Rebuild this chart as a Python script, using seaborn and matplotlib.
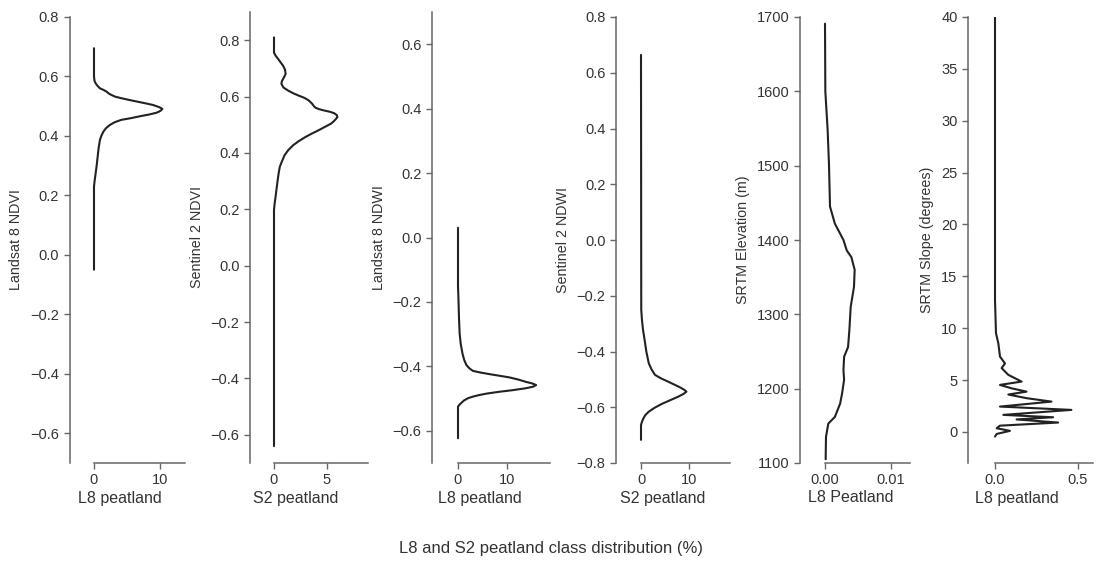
import numpy as np
import pandas as pd
import matplotlib
matplotlib.use("Agg")
import matplotlib.pyplot as plt
import seaborn as sns
from matplotlib.ticker import FuncFormatter

# Curves (value on y, class distribution % on x)
l8_ndvi_val = [0.695, 0.60, 0.585, 0.577, 0.568, 0.560, 0.555, 0.549, 0.543, 0.538, 0.532,
               0.527, 0.521, 0.515, 0.509, 0.504, 0.497, 0.491, 0.486, 0.482, 0.478, 0.472,
               0.467, 0.460, 0.454, 0.446, 0.437, 0.426, 0.414, 0.400, 0.387, 0.36, 0.330,
               0.30, 0.275, 0.25, 0.23, -0.05]
l8_ndvi_pct = [0, 0, 0.08, 0.25, 0.55, 0.9, 1.4, 1.9, 2.2, 2.6, 3.2,
               4.1, 5.3, 6.6, 7.9, 8.9, 9.8, 10.3, 10.1, 9.8, 9.4, 8.3,
               7.1, 5.6, 4.1, 3.1, 2.4, 1.8, 1.4, 1.1, 0.9, 0.7, 0.55,
               0.4, 0.25, 0.1, 0, 0]

s2_ndvi_val = [0.81, 0.756, 0.745, 0.733, 0.72, 0.709, 0.695, 0.68, 0.665, 0.655, 0.645,
               0.632, 0.621, 0.612, 0.604, 0.595, 0.586, 0.575, 0.565, 0.560, 0.555, 0.551,
               0.546, 0.541, 0.534, 0.527, 0.52, 0.512, 0.504, 0.492, 0.480, 0.468, 0.456,
               0.442, 0.427, 0.41, 0.392, 0.37, 0.351, 0.33, 0.304, 0.275, 0.245, 0.22,
               0.198, -0.64]
s2_ndvi_pct = [0, 0, 0.15, 0.4, 0.65, 0.87, 1.05, 1.1, 0.9, 0.75, 0.7,
               0.9, 1.35, 1.8, 2.3, 2.9, 3.3, 3.6, 3.8, 3.95, 4.3, 4.7,
               5.3, 5.7, 5.95, 6.0, 5.85, 5.65, 5.4, 4.8, 4.2, 3.55, 2.95,
               2.35, 1.8, 1.35, 1.0, 0.75, 0.55, 0.45, 0.35, 0.25, 0.15, 0.06,
               0, 0]

l8_ndwi_val = [0.03, -0.15, -0.194, -0.25, -0.298, -0.33, -0.36, -0.38, -0.396, -0.406,
               -0.414, -0.419, -0.424, -0.429, -0.434, -0.441, -0.448, -0.453, -0.458,
               -0.463, -0.468, -0.474, -0.479, -0.484, -0.489, -0.494, -0.499, -0.506,
               -0.513, -0.519, -0.525, -0.623]
l8_ndwi_pct = [0, 0, 0.1, 0.2, 0.33, 0.55, 0.9, 1.25, 1.7, 2.3,
               3.0, 4.5, 6.3, 8.3, 10.3, 12.2, 13.7, 15.0, 15.8,
               15.2, 13.7, 11.0, 8.3, 6.0, 4.3, 3.0, 2.0, 1.2,
               0.7, 0.3, 0, 0]

s2_ndwi_val = [0.664, -0.25, -0.287, -0.32, -0.359, -0.40, -0.442, -0.465, -0.484, -0.497,
               -0.508, -0.518, -0.528, -0.537, -0.544, -0.552, -0.562, -0.575, -0.588,
               -0.602, -0.616, -0.628, -0.640, -0.652, -0.664, -0.717]
s2_ndwi_pct = [0, 0.05, 0.2, 0.4, 0.75, 1.1, 1.6, 2.2, 2.9, 4.2,
               5.6, 6.8, 8.0, 8.9, 9.4, 8.8, 7.7, 6.0, 4.3,
               2.8, 1.6, 0.9, 0.5, 0.2, 0, 0]

elev_val = [1691, 1600, 1548, 1503, 1445, 1422, 1400, 1386, 1377, 1360, 1337, 1310,
            1279, 1256, 1243, 1225, 1212, 1194, 1180, 1162, 1153, 1135, 1105]
elev_pct = [0, 0.00005, 0.0004, 0.0006, 0.00076, 0.0015, 0.0028, 0.0033, 0.0040, 0.0045, 0.0044, 0.0039,
            0.0037, 0.0035, 0.0029, 0.0028, 0.0029, 0.0026, 0.0023, 0.0015, 0.0005, 0.00015, 0.0001]

slope_val = [40, 12.7, 9.5, 8.55, 7.26, 6.6, 6.15, 5.5, 4.85, 4.53, 4.2, 3.88, 3.6,
             3.25, 2.92, 2.44, 2.12, 1.64, 1.41, 1.2, 0.9, 0.6, 0.35, 0.1, -0.2, -0.45]
slope_pct = [0, 0, 0.006, 0.02, 0.03, 0.06, 0.04, 0.08, 0.16, 0.03, 0.10, 0.19, 0.08,
             0.19, 0.34, 0.03, 0.46, 0.05, 0.35, 0.13, 0.38, 0.03, 0.01, 0.09, 0.01, 0]

y_labels = ["Landsat 8 NDVI", "Sentinel 2 NDVI", "Landsat 8 NDWI",
            "Sentinel 2 NDWI", "SRTM Elevation (m)", "SRTM Slope (degrees)"]
x_labels = ["L8 peatland", "S2 peatland", "L8 peatland",
            "S2 peatland", "L8 Peatland", "L8 peatland"]
x_ticks = [[0, 10], [0, 5], [0, 10], [0, 10], [0, 0.01], [0, 0.5]]
y_ticks = [[-0.6, -0.4, -0.2, 0.0, 0.2, 0.4, 0.6, 0.8],
           [-0.6, -0.4, -0.2, 0.0, 0.2, 0.4, 0.6, 0.8],
           [-0.6, -0.4, -0.2, 0.0, 0.2, 0.4, 0.6],
           [-0.8, -0.6, -0.4, -0.2, 0.0, 0.2, 0.4, 0.6, 0.8],
           [1100, 1200, 1300, 1400, 1500, 1600, 1700],
           [0, 5, 10, 15, 20, 25, 30, 35, 40]]
x_fmt = ["{:.0f}", "{:.0f}", "{:.0f}", "{:.0f}", "{:.2f}", "{:.1f}"]
y_fmt = ["{:.1f}", "{:.1f}", "{:.1f}", "{:.1f}", "{:.0f}", "{:.0f}"]
x_max = [13.7, 8.9, 18.6, 18.4, 0.0129, 0.59]
ylims = [(-0.7, 0.8), (-0.7, 0.9), (-0.7, 0.7), (-0.8, 0.8), (1100, 1700), (-3, 40)]

curves = [(l8_ndvi_val, l8_ndvi_pct), (s2_ndvi_val, s2_ndvi_pct), (l8_ndwi_val, l8_ndwi_pct),
          (s2_ndwi_val, s2_ndwi_pct), (elev_val, elev_pct), (slope_val, slope_pct)]

# layout in pixels (figure is 1098 x 561)
W, H = 1098, 561
spine_px = [69.5, 250, 432, 616, 800, 968]
zero_px = [94, 274, 458, 641, 825, 995]
right_px = [185, 368, 550, 730, 910, 1093]
top_px = [17, 12, 12, 17, 17, 17]
bottom_px = 463
label_cx = [120, 296, 480, 663, 851, 1017]


def num_fmt(fmt):
    def f(v, pos):
        s = fmt.format(round(v, 6) + 0.0)
        if s.startswith("-") and float(s) == 0:
            s = s[1:]
        return s.replace("-", "\u2212")
    return FuncFormatter(f)


sns.set_style("ticks")
plt.rcParams["font.family"] = ["Liberation Sans", "DejaVu Sans"]
text_c = "#333333"
spine_c = "#666666"

fig = plt.figure(figsize=(W / 100, H / 100), dpi=100)

for i, (vals, pct) in enumerate(curves):
    l, z, r, t = spine_px[i], zero_px[i], right_px[i], top_px[i]
    ax = fig.add_axes([l / W, 1 - bottom_px / H, (r - l) / W, (bottom_px - t) / H])
    df = pd.DataFrame({"value": vals, "pct": pct})
    sns.lineplot(data=df, x="pct", y="value", orient="y", sort=False, estimator=None,
                 color="#222222", lw=1.5, ax=ax)
    x_min = -(z - l) / (r - z) * x_max[i]
    ax.set_xlim(x_min, x_max[i])
    ax.set_ylim(*ylims[i])
    ax.set_xticks(x_ticks[i])
    ax.set_yticks(y_ticks[i])
    ax.xaxis.set_major_formatter(num_fmt(x_fmt[i]))
    ax.yaxis.set_major_formatter(num_fmt(y_fmt[i]))
    sns.despine(ax=ax)
    ax.spines["bottom"].set_bounds(0, x_max[i])
    for s in ["left", "bottom"]:
        ax.spines[s].set_color(spine_c)
        ax.spines[s].set_linewidth(1.1)
    ax.tick_params(colors=spine_c, labelcolor=text_c, labelsize=10.5, length=4, width=1)
    ax.set_ylabel(y_labels[i], fontsize=10.3, color=text_c, labelpad=5)
    ax.set_xlabel(x_labels[i], fontsize=11.5, color=text_c)
    ax.xaxis.set_label_coords((label_cx[i] - l) / (r - l), -(498 - bottom_px) / (bottom_px - t))
    ax.xaxis.label.set_verticalalignment("center")

fig.text(551 / W, 1 - 549 / H, "L8 and S2 peatland class distribution (%)",
         ha="center", va="center", fontsize=12, color=text_c)

fig.savefig("out.png", dpi=100)
